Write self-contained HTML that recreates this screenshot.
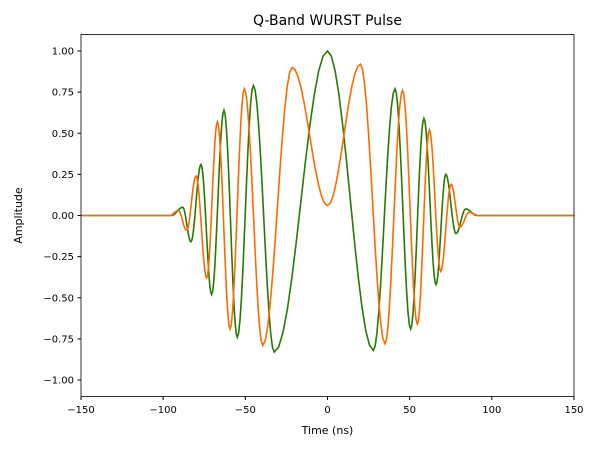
<!DOCTYPE html>
<html><head><meta charset="utf-8"><style>
body{margin:0;background:#fff;font-family:"Liberation Sans","DejaVu Sans",sans-serif}
svg text{font-family:"DejaVu Sans","Liberation Sans",sans-serif}
</style></head><body>
<svg id="chart" width="600" height="450" viewBox="0 0 600 450">
<rect x="0" y="0" width="600" height="450" fill="#fff"/>
<text x="327.5" y="25" font-size="14" text-anchor="middle">Q-Band WURST Pulse</text>
<g id="plot"></g>
<rect x="81" y="34.5" width="493" height="362" fill="none" stroke="#000" stroke-width="0.8"/>
<text x="327.5" y="434" font-size="11" text-anchor="middle">Time (ns)</text>
<text x="22" y="215.5" font-size="11" text-anchor="middle" transform="rotate(-90 22 215.5)">Amplitude</text>
</svg>
<script>
const xTicks=[-150,-100,-50,0,50,100,150];
const yTicks=[-1.00,-0.75,-0.50,-0.25,0.00,0.25,0.50,0.75,1.00];
const greenT=[-150,-95,-88.1,-83.1,-77,-70.5,-63,-54.9,-45.1,-32.4,0,27.9,41.1,50.6,58.7,66,72,78.2,84.1,91,150];
const greenV=[0,0,0.05,-0.16,0.31,-0.48,0.64,-0.74,0.79,-0.83,1.0,-0.82,0.77,-0.69,0.59,-0.42,0.25,-0.11,0.04,0,0];
const orangeT=[-150,-96,-90.8,-85.7,-80,-73.5,-67,-59.3,-50.6,-39.4,-21.5,0,20,35,45.7,54.7,62,68.9,75.2,80.6,86.3,92,150];
const orangeV=[0,0,0.03,-0.09,0.24,-0.38,0.57,-0.69,0.77,-0.79,0.90,0.06,0.92,-0.78,0.76,-0.66,0.52,-0.34,0.19,-0.07,0.02,0,0];
const X=t=>81+(t+150)/300*493;
const Y=v=>215.5-v*164.5;
const NS="http://www.w3.org/2000/svg";
const plot=document.getElementById('plot');
const svg=document.getElementById('chart');
xTicks.forEach(t=>{
 const l=document.createElementNS(NS,'line');
 l.setAttribute('x1',X(t));l.setAttribute('x2',X(t));l.setAttribute('y1',396.5);l.setAttribute('y2',400);l.setAttribute('stroke','#000');
 
 
 svg.appendChild(l);
 const tx=document.createElementNS(NS,'text');
 tx.setAttribute('x',X(t));tx.setAttribute('y',413);tx.setAttribute('font-size','10');tx.setAttribute('text-anchor','middle');
 tx.textContent=(t<0?'\u2212'+(-t):t);
 
 
 svg.appendChild(tx);
});
yTicks.forEach(v=>{
 const l=document.createElementNS(NS,'line');
 l.setAttribute('x1',77.5);l.setAttribute('x2',81);l.setAttribute('y1',Y(v));l.setAttribute('y2',Y(v));l.setAttribute('stroke','#000');
 
 
 svg.appendChild(l);
 const tx=document.createElementNS(NS,'text');
 tx.setAttribute('x',74);tx.setAttribute('y',Y(v)+3.5);tx.setAttribute('font-size','10');tx.setAttribute('text-anchor','end');
 tx.textContent=(v<0?'\u2212':'')+Math.abs(v).toFixed(2);
 
 
 svg.appendChild(tx);
});
function path(T,V){
 let d='M'+X(T[0]).toFixed(2)+','+Y(V[0]).toFixed(2);
 for(let i=0;i<T.length-1;i++){
  for(let k=1;k<=12;k++){
   const f=k/12,e=(1-Math.cos(Math.PI*f))/2;
   d+=' L'+X(T[i]+(T[i+1]-T[i])*f).toFixed(2)+','+Y(V[i]+(V[i+1]-V[i])*e).toFixed(2);
  }
 }
 return d;
}
const g=document.createElementNS(NS,'path');
g.setAttribute('d',path(greenT,greenV));g.setAttribute('fill','none');g.setAttribute('stroke','#267a00');g.setAttribute('stroke-width','1.6');


plot.appendChild(g);
const o=document.createElementNS(NS,'path');
o.setAttribute('d',path(orangeT,orangeV));o.setAttribute('fill','none');o.setAttribute('stroke','#ff6a00');o.setAttribute('stroke-width','1.6');


plot.appendChild(o);
</script>
</body></html>
